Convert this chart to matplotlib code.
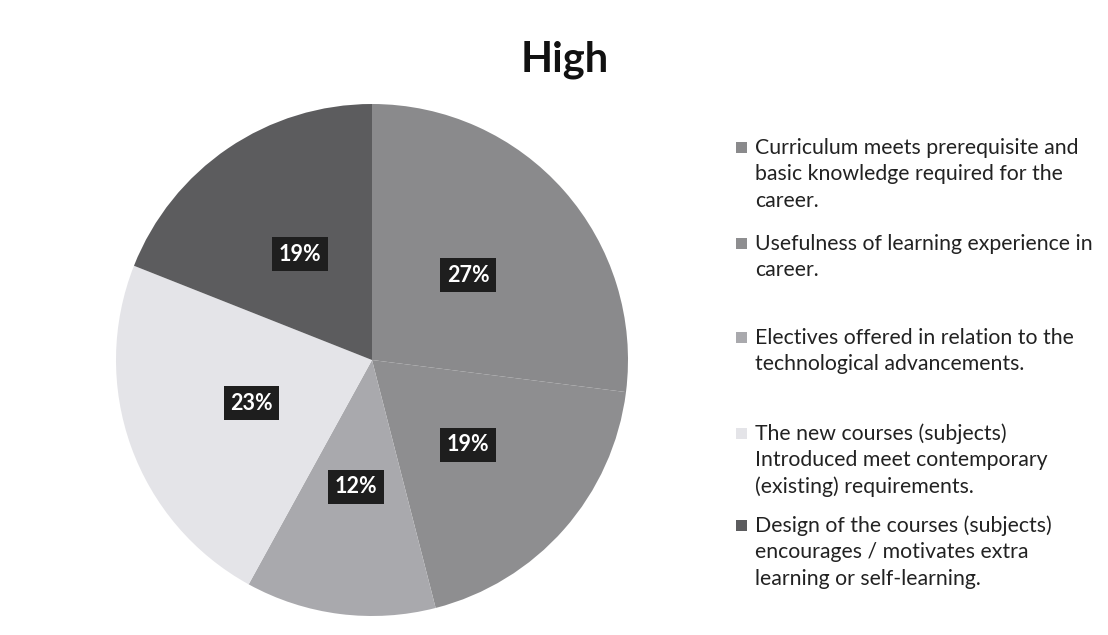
import matplotlib
matplotlib.use("Agg")
import matplotlib.pyplot as plt
from matplotlib.patches import Rectangle

plt.rcParams['font.family'] = ['Lato', 'DejaVu Sans']

categories = [
    "Curriculum meets prerequisite and\nbasic knowledge required for the\ncareer.",
    "Usefulness of learning experience in\ncareer.",
    "Electives offered in relation to the\ntechnological advancements.",
    "The new courses (subjects)\nIntroduced meet contemporary\n(existing) requirements.",
    "Design of the courses (subjects)\nencourages / motivates extra\nlearning or self-learning.",
]
values = [27, 19, 12, 23, 19]
colors = ["#8a8a8c", "#8e8e90", "#a9a9ad", "#e4e4e8", "#5c5c5e"]
title = "High"

W, H = 1108, 635
fig = plt.figure(figsize=(W / 100, H / 100), dpi=100)
fig.patch.set_facecolor("white")

cx, cy, r = 372, 360, 256
ax = fig.add_axes([(cx - r) / W, (H - cy - r) / H, 2 * r / W, 2 * r / H])
wedges, texts, autotexts = ax.pie(
    values, colors=colors, startangle=90, counterclock=False,
    autopct=lambda p: f"{p:.0f}%", pctdistance=0.5,
    wedgeprops=dict(linewidth=0),
    textprops=dict(color="white", fontsize=15.5, fontweight="bold"),
)
for t in autotexts:
    t.set_bbox(dict(boxstyle="square,pad=0.3", facecolor="#1e1e1e", edgecolor="none"))
ax.set_xlim(-1, 1)
ax.set_ylim(-1, 1)
ax.set_aspect("equal")
ax.axis("off")

fig.text(565 / W, 1 - 60 / H, title, ha="center", va="center",
         fontsize=30, fontweight="bold", color="#111111")

# legend
legend_tops = [148, 244, 338, 434, 526]
line_h = 26.5
for lab, col, ytop in zip(categories, colors, legend_tops):
    fig.patches.append(Rectangle((736 / W, 1 - (ytop + 5) / H), 11 / W, 11 / H,
                                 transform=fig.transFigure, facecolor=col,
                                 edgecolor="none"))
    for i, line in enumerate(lab.split("\n")):
        fig.text(755 / W, 1 - (ytop + i * line_h) / H, line, ha="left",
                 va="center", fontsize=15.3, color="#222222")

fig.savefig("out.png", dpi=100, facecolor="white")
